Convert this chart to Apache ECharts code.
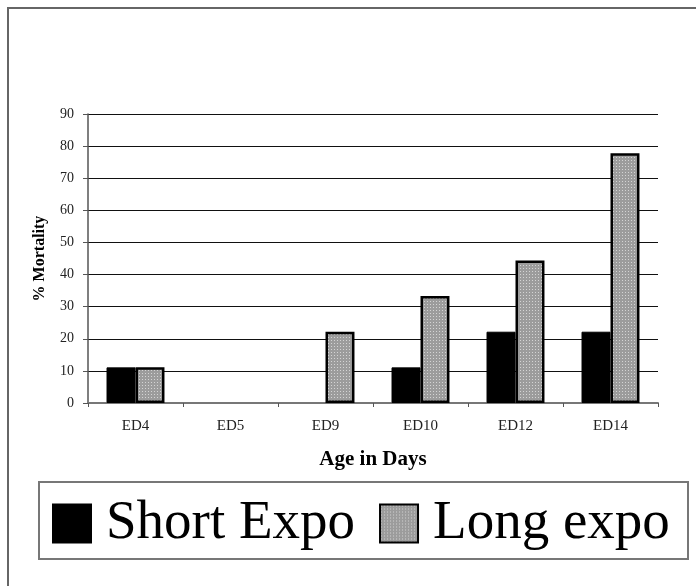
<!DOCTYPE html>
<html>
<head>
<meta charset="utf-8">
<script src="https://cdn.jsdelivr.net/npm/echarts@6/dist/echarts.min.js"></script>
<style>
html,body{margin:0;padding:0;background:#fff;}
#chart{width:696px;height:586px;}
</style>
</head>
<body>
<div id="chart"></div>
<script>
const categories = ['ED4', 'ED5', 'ED9', 'ED10', 'ED12', 'ED14'];
const shortExpo = [11.1, 0, 0, 11.1, 22.2, 22.2];
const longExpo = [11.1, 0, 22.2, 33.3, 44.4, 77.8];
const yTicks = [0, 10, 20, 30, 40, 50, 60, 70, 80, 90];

// dotted grey pattern
const pc = document.createElement('canvas');
pc.width = 3; pc.height = 3;
const px = pc.getContext('2d');
px.fillStyle = '#9c9c9c';
px.fillRect(0, 0, 3, 3);
px.fillStyle = '#d4d4d4';
px.fillRect(1, 1, 1, 1);
const greyPattern = { image: pc, repeat: 'repeat' };

// zero values draw nothing (no outline)
const withNoZeroBorder = arr => arr.map(v => v === 0 ? { value: v, itemStyle: { borderWidth: 0, opacity: 0 } } : v);

const serif = 'Liberation Serif';
const chart = echarts.init(document.getElementById('chart'));
chart.setOption({
  backgroundColor: '#fff',
  animation: false,
  grid: { left: 88, right: 38, top: 114, bottom: 183, containLabel: false },
  graphic: [
    { type: 'rect', shape: { x: 8, y: 8, width: 720, height: 620 }, style: { fill: 'none', stroke: '#666', lineWidth: 2 }, silent: true },
    { type: 'rect', shape: { x: 39, y: 482, width: 649, height: 77 }, style: { fill: 'none', stroke: '#777', lineWidth: 2 }, silent: true }
  ],
  legend: {
    left: 52,
    top: 496,
    padding: 0,
    itemWidth: 38,
    itemHeight: 38,
    itemGap: 24,
    icon: 'rect',
    textStyle: { fontFamily: serif, fontSize: 55, color: '#000', padding: [0, 0, 0, 10] },
    data: ['Short Expo', 'Long expo']
  },
  xAxis: {
    type: 'category',
    data: categories,
    name: 'Age in Days',
    nameLocation: 'middle',
    nameGap: 46,
    nameTextStyle: { fontFamily: serif, fontSize: 21, fontWeight: 'bold', color: '#000' },
    axisLine: { lineStyle: { color: '#777', width: 2 } },
    axisTick: { show: true, length: 4, lineStyle: { color: '#555' } },
    axisLabel: { fontFamily: serif, fontSize: 15, color: '#222', margin: 16 }
  },
  yAxis: {
    type: 'value',
    min: 0,
    max: 90,
    interval: 10,
    name: '% Mortality',
    nameLocation: 'middle',
    nameGap: 40,
    nameTextStyle: { fontFamily: serif, fontSize: 16, fontWeight: 'bold', color: '#000' },
    axisLine: { show: true, lineStyle: { color: '#555', width: 1.5 } },
    axisTick: { show: true, length: 5, lineStyle: { color: '#555' } },
    axisLabel: {
      fontFamily: serif, fontSize: 14, color: '#222', margin: 14,
      formatter: v => yTicks.includes(v) ? String(v) : ''
    },
    splitLine: { show: true, lineStyle: { color: '#111', width: 1 } }
  },
  series: [
    {
      name: 'Short Expo',
      type: 'bar',
      data: withNoZeroBorder(shortExpo),
      barGap: '0%',
      barCategoryGap: '39%',
      itemStyle: { color: '#000', borderColor: '#000', borderWidth: 1 }
    },
    {
      name: 'Long expo',
      type: 'bar',
      data: withNoZeroBorder(longExpo),
      barGap: '0%',
      barCategoryGap: '39%',
      itemStyle: { color: greyPattern, borderColor: '#000', borderWidth: 2.5 }
    }
  ]
});
</script>
</body>
</html>
